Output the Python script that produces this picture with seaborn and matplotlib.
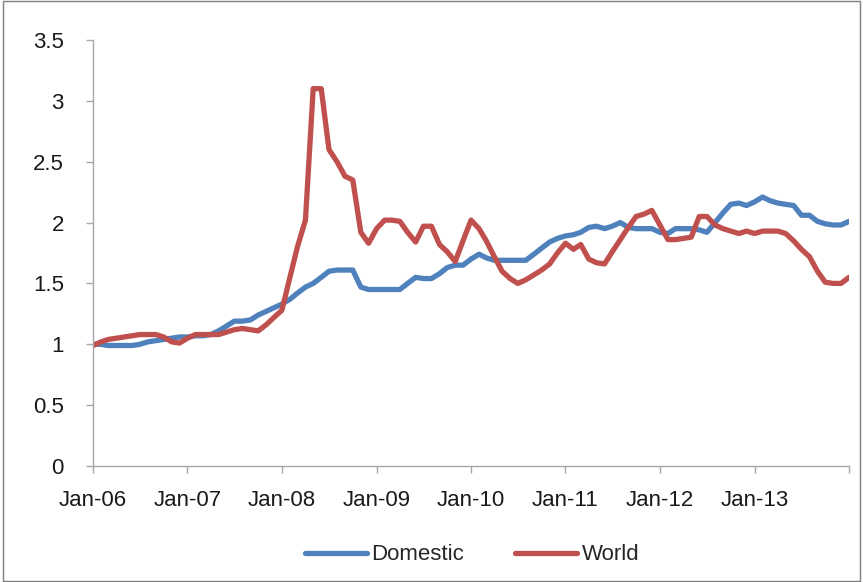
import pandas as pd
import seaborn as sns
import matplotlib.pyplot as plt
from matplotlib.patches import Rectangle

sns.set_theme(style="white")
plt.rcParams['font.family'] = ['Liberation Sans', 'DejaVu Sans']

# monthly index values, Jan-06 .. Jan-14
months = pd.date_range("2006-01-01", "2014-01-01", freq="MS")

domestic = [
    1.00, 1.00, 0.99, 0.99, 0.99, 0.99, 1.00, 1.02, 1.03, 1.04, 1.05, 1.06,  # 2006
    1.06, 1.07, 1.07, 1.08, 1.11, 1.15, 1.19, 1.19, 1.20, 1.24, 1.27, 1.30,  # 2007
    1.33, 1.37, 1.42, 1.47, 1.50, 1.55, 1.60, 1.61, 1.61, 1.61, 1.47, 1.45,  # 2008
    1.45, 1.45, 1.45, 1.45, 1.50, 1.55, 1.54, 1.54, 1.58, 1.63, 1.65, 1.65,  # 2009
    1.70, 1.74, 1.71, 1.69, 1.69, 1.69, 1.69, 1.69, 1.74, 1.79, 1.84, 1.87,  # 2010
    1.89, 1.90, 1.92, 1.96, 1.97, 1.95, 1.97, 2.00, 1.96, 1.95, 1.95, 1.95,  # 2011
    1.92, 1.91, 1.95, 1.95, 1.95, 1.94, 1.92, 2.00, 2.08, 2.15, 2.16, 2.14,  # 2012
    2.17, 2.21, 2.18, 2.16, 2.15, 2.14, 2.06, 2.06, 2.01, 1.99, 1.98, 1.98,  # 2013
    2.01,
]
world = [
    0.99, 1.02, 1.04, 1.05, 1.06, 1.07, 1.08, 1.08, 1.08, 1.06, 1.02, 1.01,
    1.05, 1.08, 1.08, 1.08, 1.08, 1.10, 1.12, 1.13, 1.12, 1.11, 1.16, 1.22,
    1.28, 1.55, 1.80, 2.02, 3.10, 3.10, 2.60, 2.50, 2.38, 2.35, 1.92, 1.83,
    1.95, 2.02, 2.02, 2.01, 1.92, 1.84, 1.97, 1.97, 1.82, 1.76, 1.68, 1.85,
    2.02, 1.95, 1.85, 1.72, 1.60, 1.54, 1.50, 1.53, 1.57, 1.61, 1.66, 1.75,
    1.83, 1.78, 1.82, 1.70, 1.67, 1.66, 1.76, 1.86, 1.96, 2.05, 2.07, 2.10,
    1.98, 1.86, 1.86, 1.87, 1.88, 2.05, 2.05, 1.98, 1.95, 1.93, 1.91, 1.93,
    1.91, 1.93, 1.93, 1.93, 1.91, 1.85, 1.78, 1.72, 1.60, 1.51, 1.50, 1.50,
    1.55,
]

yticks = [0, 0.5, 1, 1.5, 2, 2.5, 3, 3.5]
ytick_labels = ["0", "0.5", "1", "1.5", "2", "2.5", "3", "3.5"]
xtick_dates = pd.date_range("2006-01-01", "2014-01-01", freq="YS")
xtick_labels = ["Jan-06", "Jan-07", "Jan-08", "Jan-09", "Jan-10",
                "Jan-11", "Jan-12", "Jan-13", ""]

df = pd.DataFrame({"date": months, "Domestic": domestic, "World": world})
df_long = df.melt(id_vars="date", var_name="series", value_name="value")

fig = plt.figure(figsize=(8.63, 5.82), dpi=100)
ax = fig.add_axes([0.1078, 0.1993, 0.876, 0.732])

sns.lineplot(
    data=df_long, x="date", y="value", hue="series",
    palette={"Domestic": "#4F81BD", "World": "#C0504D"},
    linewidth=3.8, ax=ax, solid_joinstyle="round", solid_capstyle="round"
)

ax.set_xlim(months[0], months[-1])
ax.set_ylim(0, 3.5)
ax.set_yticks(yticks)
ax.set_yticklabels(ytick_labels)
ax.set_xticks(xtick_dates)
ax.set_xticklabels(xtick_labels)
ax.set(xlabel="", ylabel="")

for s in ["top", "right"]:
    ax.spines[s].set_visible(False)
for s in ["left", "bottom"]:
    ax.spines[s].set_color("#A6A6A6")
    ax.spines[s].set_linewidth(1.0)
ax.tick_params(axis="both", which="both", direction="out", length=5,
               width=1.0, color="#A6A6A6", labelsize=16, labelcolor="#1a1a1a",
               bottom=True, left=True)
ax.tick_params(axis="y", pad=16)
ax.tick_params(axis="x", pad=12)

handles, labels = ax.get_legend_handles_labels()
ax.legend(handles, labels, loc="center", bbox_to_anchor=(472 / 863, 1 - 555 / 582),
          bbox_transform=fig.transFigure, ncol=2, frameon=False, fontsize=16,
          handlelength=2.8, handletextpad=0.2, columnspacing=2.3)

# chart frame
fig.patches.append(Rectangle((0.003, 0.002), 0.994, 0.996, transform=fig.transFigure,
                             fill=False, edgecolor="#7f7f7f", linewidth=1.0))

fig.savefig("out.png", dpi=100)
